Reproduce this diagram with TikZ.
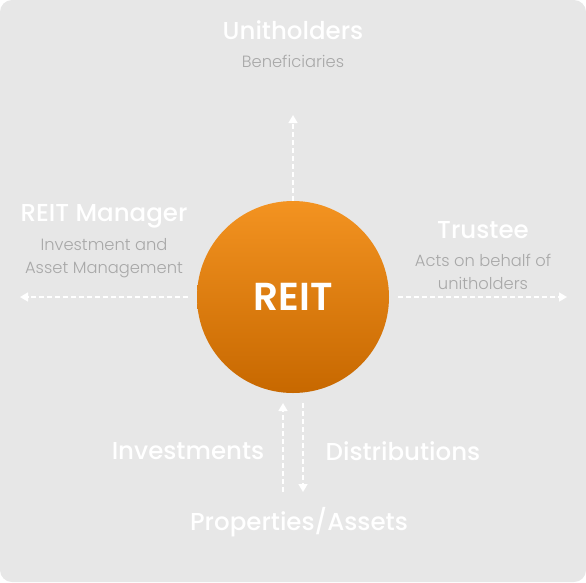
\documentclass[tikz,border=0pt]{standalone}
\usepackage{fontspec}
\setmainfont{Poppins}
\newfontfamily\titlefont{Poppins}[UprightFont={* Medium}, BoldFont={* SemiBold}]
\newfontfamily\subfont{Poppins}[UprightFont={* Light}]
\usetikzlibrary{arrows.meta}
\definecolor{bggray}{HTML}{E7E7E7}
\definecolor{subgray}{HTML}{A8A8A8}
\definecolor{reittop}{HTML}{F39321}
\definecolor{reitbot}{HTML}{C76800}

\begin{document}
\begin{tikzpicture}[x=1pt,y=-1pt]
        \fill[bggray, rounded corners=12pt] (0,0) rectangle (586,582);
        \useasboundingbox (0,0) rectangle (586,582);

        \node[circle, minimum size=192pt, top color=reittop, bottom color=reitbot,
              text=white, font=\titlefont\fontsize{39}{44}\selectfont\bfseries] (reit) at (293,297) {REIT};

        \begin{scope}[every node/.style={text=white, font=\titlefont\fontsize{24.5}{28}\selectfont}]
            \node (U) at (293,30) {Unitholders};
            \node (M) at (104,216) {REIT Manager};
            \node (T) at (483,230) {Trustee};
            \node (I) at (188,451) {Investments};
            \node (D) at (403,451) {Distributions};
            \node (P) at (299,522) {Properties/Assets};
        \end{scope}

        \begin{scope}[every node/.style={text=subgray, align=center, font=\subfont\fontsize{16.3}{23}\selectfont}]
            \node (Ub) at (293,61) {Beneficiaries};
            \node (Mb) at (104,258) {Investment and\\Asset Management};
            \node (Tb) at (483,272) {Acts on behalf of\\unitholders};
        \end{scope}

        \coordinate (up) at (293,115);
        \coordinate (left) at (20,297);
        \coordinate (right) at (567,297);
        \coordinate (in0) at (283,492);
        \coordinate (in1) at (283,403);
        \coordinate (out0) at (303,403);
        \coordinate (out1) at (303,492);

        \begin{scope}[>={Triangle[width=9pt,length=8pt]},
            every edge/.style={draw=white, line width=1.6pt, dash pattern=on 5pt off 3pt}]
            \path [->] (reit) edge (up);
            \path [->, shorten <=9pt] (reit) edge (left);
            \path [->, shorten <=9pt] (reit) edge (right);
            \path [->] (in0) edge (in1);
            \path [->] (out0) edge (out1);
        \end{scope}
    \end{tikzpicture}
\end{document}
